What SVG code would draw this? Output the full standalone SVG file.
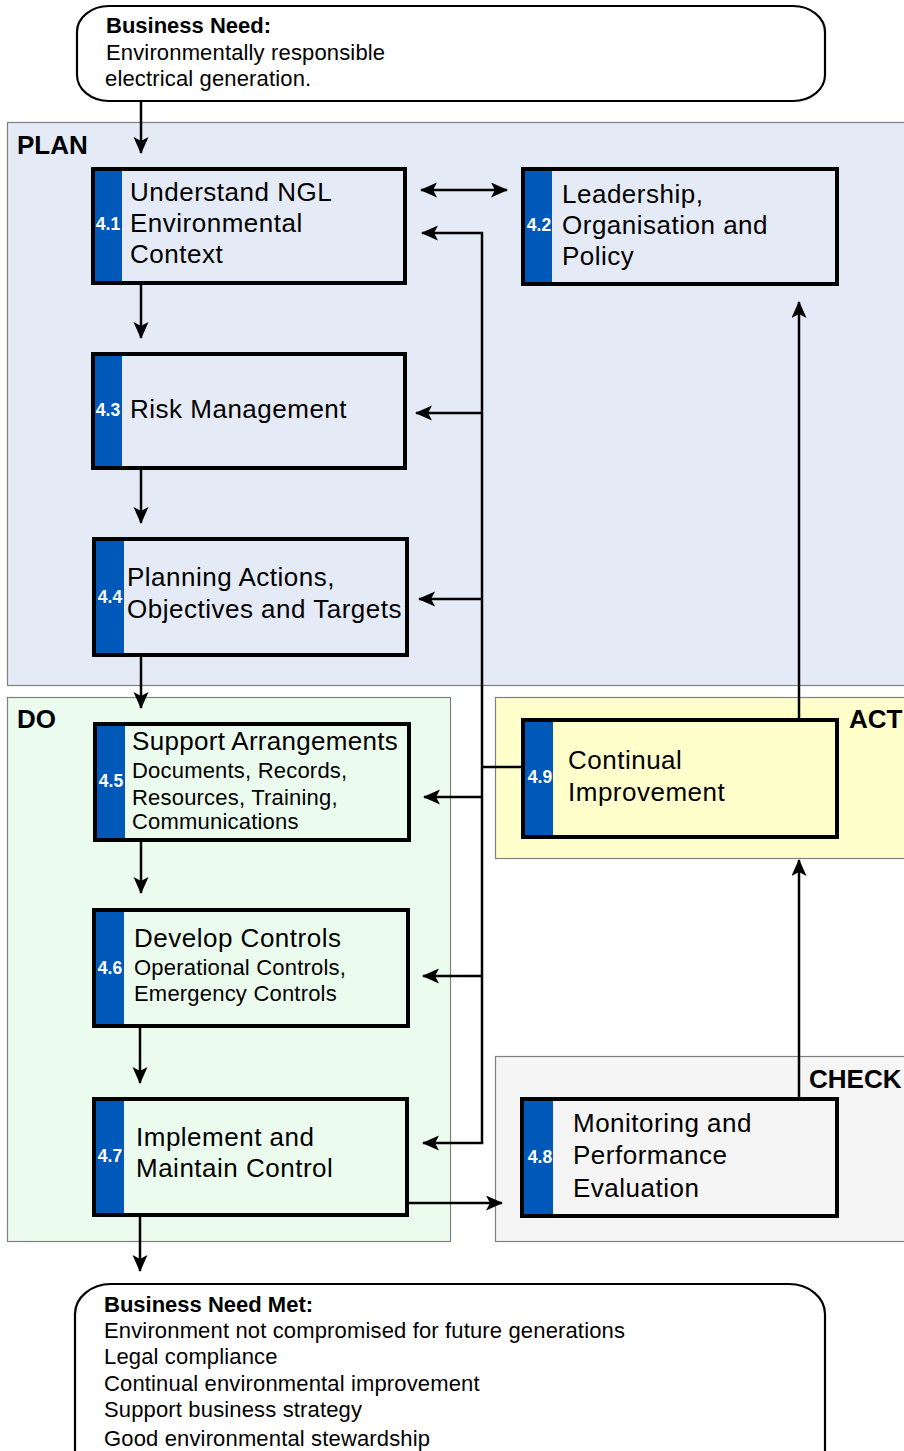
<svg xmlns="http://www.w3.org/2000/svg" width="904" height="1451" viewBox="0 0 904 1451">
<defs>
<style>
text{font-family:"Liberation Sans",Arial,sans-serif;fill:#000}
.region{stroke:#808080;stroke-width:1.2}
.plan{fill:#e5ebf6}.do{fill:#ebfcee}.act{fill:#ffffcc}.check{fill:#f5f5f5}
.box{stroke:#000;stroke-width:4}
.stripe{fill:#0058b8}
.num{font-size:17.5px;font-weight:bold;fill:#fff;text-anchor:middle}
.t{font-size:26px;letter-spacing:0.5px}
.s{font-size:22px;letter-spacing:0.2px}
.lab{font-size:26px;font-weight:bold}
.bub{fill:#fff;stroke:#000;stroke-width:2.2}
.bt{font-size:22px;letter-spacing:0.15px}
.bb{font-size:22px;font-weight:bold}
.c{fill:none;stroke:#000;stroke-width:2.5}
</style>
<marker id="ah" markerUnits="userSpaceOnUse" markerWidth="19" markerHeight="16" refX="16" refY="7.5" orient="auto-start-reverse">
<path d="M0,0 L17,7.5 L0,15 L4,7.5 z" fill="#000"/>
</marker>
</defs>

<g id="regions">
<rect class="region plan" x="7.5" y="122.5" width="910" height="563"/>
<rect class="region do" x="7.5" y="697.5" width="443" height="544"/>
<rect class="region act" x="495.5" y="697.5" width="420" height="161"/>
<rect class="region check" x="495.5" y="1056.5" width="420" height="185"/>
<text class="lab" x="17" y="154">PLAN</text>
<text class="lab" x="17" y="728">DO</text>
<text class="lab" x="849" y="728">ACT</text>
<text class="lab" x="809" y="1088">CHECK</text>
</g>

<g id="need">
<rect class="bub" x="77" y="6" width="748" height="95" rx="32" ry="26"/>
<text class="bb" x="106" y="33">Business Need:</text>
<text class="bt" x="106" y="60">Environmentally responsible</text>
<text class="bt" x="105" y="86">electrical generation.</text>
</g>

<g id="n41">
<rect class="box plan" x="93" y="169" width="312" height="114"/>
<rect class="stripe" x="95" y="171" width="27" height="110"/>
<text class="num" x="108" y="230">4.1</text>
<text class="t" x="130" y="201">Understand NGL</text>
<text class="t" x="130" y="232">Environmental</text>
<text class="t" x="130" y="263">Context</text>
</g>

<g id="n42">
<rect class="box plan" x="523" y="169" width="314" height="115"/>
<rect class="stripe" x="525" y="171" width="27" height="111"/>
<text class="num" x="539" y="231">4.2</text>
<text class="t" x="562" y="203">Leadership,</text>
<text class="t" x="562" y="234">Organisation and</text>
<text class="t" x="562" y="265">Policy</text>
</g>

<g id="n43">
<rect class="box plan" x="93" y="354" width="312" height="114"/>
<rect class="stripe" x="95" y="356" width="27" height="110"/>
<text class="num" x="108" y="416">4.3</text>
<text class="t" x="130" y="418">Risk Management</text>
</g>

<g id="n44">
<rect class="box plan" x="94" y="539" width="313" height="116"/>
<rect class="stripe" x="96" y="541" width="28" height="112"/>
<text class="num" x="110" y="603">4.4</text>
<text class="t" x="127" y="586">Planning Actions,</text>
<text class="t" x="127" y="618">Objectives and Targets</text>
</g>

<g id="n45">
<rect class="box do" x="95" y="724" width="314" height="116"/>
<rect class="stripe" x="97" y="726" width="28" height="112"/>
<text class="num" x="111" y="787">4.5</text>
<text class="t" x="132" y="750" style="letter-spacing:0.3px">Support Arrangements</text>
<text class="s" x="132" y="778">Documents, Records,</text>
<text class="s" x="132" y="805">Resources, Training,</text>
<text class="s" x="132" y="829">Communications</text>
</g>

<g id="n46">
<rect class="box do" x="94" y="910" width="314" height="116"/>
<rect class="stripe" x="96" y="912" width="28" height="112"/>
<text class="num" x="110" y="974">4.6</text>
<text class="t" x="134" y="947">Develop Controls</text>
<text class="s" x="134" y="975">Operational Controls,</text>
<text class="s" x="134" y="1001">Emergency Controls</text>
</g>

<g id="n47">
<rect class="box do" x="94" y="1099" width="313" height="116"/>
<rect class="stripe" x="96" y="1101" width="28" height="112"/>
<text class="num" x="110" y="1162">4.7</text>
<text class="t" x="136" y="1146">Implement and</text>
<text class="t" x="136" y="1177">Maintain Control</text>
</g>

<g id="n49">
<rect class="box act" x="523" y="720" width="314" height="117"/>
<rect class="stripe" x="525" y="722" width="28" height="113"/>
<text class="num" x="540" y="783">4.9</text>
<text class="t" x="568" y="769">Continual</text>
<text class="t" x="568" y="801">Improvement</text>
</g>

<g id="n48">
<rect class="box check" x="522" y="1099" width="315" height="117"/>
<rect class="stripe" x="524" y="1101" width="29" height="113"/>
<text class="num" x="540" y="1163">4.8</text>
<text class="t" x="573" y="1132">Monitoring and</text>
<text class="t" x="573" y="1164">Performance</text>
<text class="t" x="573" y="1197">Evaluation</text>
</g>

<g id="met">
<rect class="bub" x="75" y="1284" width="750" height="200" rx="36" ry="30"/>
<text class="bb" x="104" y="1312">Business Need Met:</text>
<text class="bt" x="104" y="1338">Environment not compromised for future generations</text>
<text class="bt" x="104" y="1364">Legal compliance</text>
<text class="bt" x="104" y="1391">Continual environmental improvement</text>
<text class="bt" x="104" y="1417">Support business strategy</text>
<text class="bt" x="104" y="1446">Good environmental stewardship</text>
</g>

<g id="connectors">
<line class="c" x1="141" y1="101" x2="141" y2="153" marker-end="url(#ah)"/>
<line class="c" x1="141" y1="285" x2="141" y2="338" marker-end="url(#ah)"/>
<line class="c" x1="141" y1="470" x2="141" y2="523" marker-end="url(#ah)"/>
<line class="c" x1="141" y1="657" x2="141" y2="708" marker-end="url(#ah)"/>
<line class="c" x1="141" y1="842" x2="141" y2="893" marker-end="url(#ah)"/>
<line class="c" x1="140" y1="1028" x2="140" y2="1083" marker-end="url(#ah)"/>
<line class="c" x1="140" y1="1217" x2="140" y2="1271" marker-end="url(#ah)"/>
<line class="c" x1="421" y1="190" x2="507" y2="190" marker-start="url(#ah)" marker-end="url(#ah)"/>
<line class="c" x1="409" y1="1203" x2="502" y2="1203" marker-end="url(#ah)"/>
<line class="c" x1="799" y1="1097" x2="799" y2="860" marker-end="url(#ah)"/>
<line class="c" x1="799" y1="718" x2="799" y2="302" marker-end="url(#ah)"/>
<polyline class="c" points="521,767 482,767"/>
<polyline class="c" points="482,1143 482,233 422,233" marker-end="url(#ah)"/>
<line class="c" x1="482" y1="413" x2="416" y2="413" marker-end="url(#ah)"/>
<line class="c" x1="482" y1="599" x2="419" y2="599" marker-end="url(#ah)"/>
<line class="c" x1="482" y1="797" x2="424" y2="797" marker-end="url(#ah)"/>
<line class="c" x1="482" y1="976" x2="423" y2="976" marker-end="url(#ah)"/>
<polyline class="c" points="482,1142 482,1143 423,1143" marker-end="url(#ah)"/>
</g>
</svg>
